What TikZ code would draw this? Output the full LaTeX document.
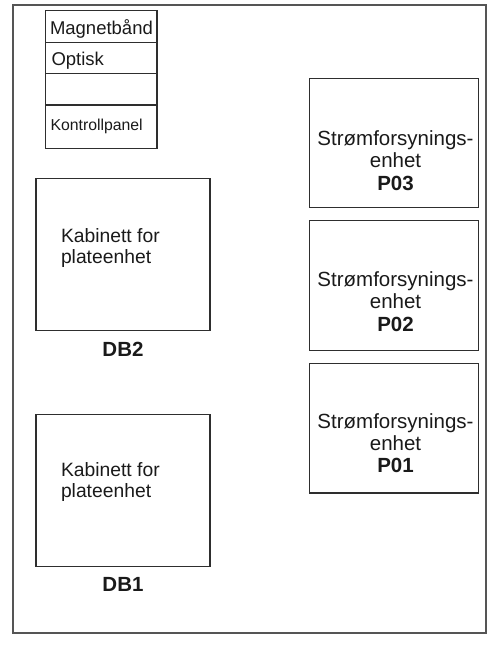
\documentclass[tikz,border=0pt]{standalone}
\usepackage{fontspec}
\setmainfont{Liberation Sans}
\definecolor{linec}{HTML}{2E2E2E}
\definecolor{framec}{HTML}{555555}
\definecolor{txtc}{HTML}{1A1A1A}
\begin{document}
\begin{tikzpicture}[x=1pt,y=-1pt,
  box/.style={draw=linec, line width=1.3pt, inner sep=0pt, outer sep=0pt},
  txt/.style={text=txtc, inner sep=0pt, outer sep=0pt},
  rowtxt/.style={txt, anchor=base west, font=\fontsize{18.5}{20}\selectfont},
  kabtxt/.style={txt, anchor=center, align=left, font=\fontsize{19.3}{20.7}\selectfont},
  psutxt/.style={txt, anchor=center, align=center, font=\fontsize{20.5}{22.2}\selectfont},
  dblabel/.style={txt, anchor=base, font=\fontsize{20.5}{22}\selectfont\bfseries}]
\useasboundingbox (0,0) rectangle (488,645);
% outer frame
\node[draw=framec, line width=1.3pt, inner sep=0pt, minimum width=473pt, minimum height=628pt] (frame) at (249.5,319) {};
% stack of drives
\node[box, minimum width=111.3pt, minimum height=31.6pt] (r1) at (101.35,26.5) {};
\node[box, minimum width=111.3pt, minimum height=31pt] (r2) at (101.35,57.8) {};
\node[box, minimum width=111.3pt, minimum height=31.7pt] (r3) at (101.35,89.15) {};
\node[box, minimum width=111.3pt, minimum height=43.3pt] (r4) at (101.35,126.65) {};
\node[rowtxt] (t1) at (50,34) {Magnetbånd};
\node[rowtxt] (t2) at (51.5,65.7) {Optisk};
\node[rowtxt, font=\fontsize{15.8}{18}\selectfont] (t4) at (50.5,130.7) {Kontrollpanel};
% disk cabinets
\node[box, minimum width=174pt, minimum height=152.4pt] (db2) at (123,254.5) {};
\node[kabtxt, anchor=north west] (k2) at (61,229) {Kabinett for\\plateenhet};
\node[dblabel] (l2) at (123,356.7) {DB2};
\node[box, minimum width=174pt, minimum height=152.4pt] (db1) at (123,490.5) {};
\node[kabtxt, anchor=north west] (k1) at (61,463) {Kabinett for\\plateenhet};
\node[dblabel] (l1) at (123,591.7) {DB1};
% power supplies
\node[box, minimum width=169.4pt, minimum height=129pt] (p03) at (394,142.8) {};
\node[psutxt] (pt3) at (395.5,160.5) {Strømforsynings-\\enhet\\\textbf{P03}};
\node[box, minimum width=169.4pt, minimum height=130pt] (p02) at (394,285.7) {};
\node[psutxt] (pt2) at (395.5,301.5) {Strømforsynings-\\enhet\\\textbf{P02}};
\node[box, minimum width=169.4pt, minimum height=129.7pt] (p01) at (394,428.15) {};
\node[psutxt] (pt1) at (395.5,443) {Strømforsynings-\\enhet\\\textbf{P01}};
\end{tikzpicture}
\end{document}
